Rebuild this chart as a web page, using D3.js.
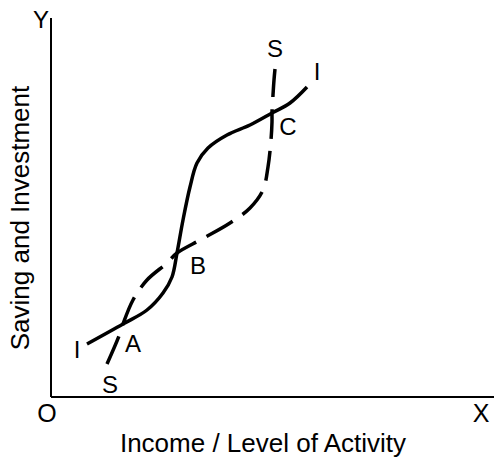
<!DOCTYPE html>
<html>
<head>
<meta charset="utf-8">
<script src="https://cdn.jsdelivr.net/npm/d3@7/dist/d3.min.js"></script>
<style>
  html, body { margin: 0; padding: 0; background: #fff; }
  svg { display: block; }
  text { font-family: "Liberation Sans", Arial, sans-serif; fill: #000; }
</style>
</head>
<body>
<svg id="chart" width="494" height="458"></svg>
<script>
// Investment curve (solid): [income, saving/investment]
const investX = [36, 72, 96, 112, 121, 126, 132, 139, 146, 157, 176, 199, 221, 239, 256];
const investY = [53, 73, 87, 104, 120, 144, 177, 210, 234, 249, 262, 272, 284, 294, 310];
// Saving curve (dashed)
const savingX = [56, 68, 72, 82, 96, 116, 126, 151, 179, 199, 212, 217, 220, 221, 221, 222, 223, 224];
const savingY = [33, 61, 73, 97, 117, 134, 144, 158, 174, 189, 207, 230, 257, 275, 285, 302, 317, 328];
// Point / curve labels
const labelText = ["S", "I", "A", "B", "C", "S", "I"];
const labelX    = [59, 26, 82, 147, 237, 224, 266];
const labelY    = [4, 39, 45, 123, 262, 340, 317];

const axisLabelX = "Income / Level of Activity";
const axisLabelY = "Saving and Investment";

const svg = d3.select("#chart");
const x = d3.scaleLinear().domain([0, 443]).range([51, 494]);
const y = d3.scaleLinear().domain([0, 379]).range([397, 18]);

// Axes
svg.append("line").attr("x1", x(0)).attr("x2", x(0)).attr("y1", y(379)).attr("y2", y(0))
  .attr("stroke", "#000").attr("stroke-width", 2);
svg.append("line").attr("x1", x(0)).attr("x2", x(443)).attr("y1", y(0)).attr("y2", y(0))
  .attr("stroke", "#000").attr("stroke-width", 2);

const line = d3.line().x(d => x(d[0])).y(d => y(d[1])).curve(d3.curveCatmullRom.alpha(0.5));

const investPts = investX.map((v, i) => [v, investY[i]]);
const savingPts = savingX.map((v, i) => [v, savingY[i]]);

svg.append("path").attr("d", line(savingPts)).attr("fill", "none")
  .attr("stroke", "#000").attr("stroke-width", 3.5).attr("stroke-dasharray", "30,12");
svg.append("path").attr("d", line(investPts)).attr("fill", "none")
  .attr("stroke", "#000").attr("stroke-width", 3.5);

// Labels
labelText.forEach((t, i) => {
  svg.append("text").attr("x", x(labelX[i])).attr("y", y(labelY[i]))
    .attr("text-anchor", "middle").attr("font-size", 24).text(t);
});

svg.append("text").attr("x", 41).attr("y", 28).attr("text-anchor", "middle").attr("font-size", 24).text("Y");
svg.append("text").attr("x", 47).attr("y", 422).attr("text-anchor", "middle").attr("font-size", 25).text("O");
svg.append("text").attr("x", 481).attr("y", 422).attr("text-anchor", "middle").attr("font-size", 25).text("X");

svg.append("text").attr("x", 263).attr("y", 452).attr("text-anchor", "middle").attr("font-size", 26).text(axisLabelX);
svg.append("text").attr("transform", "translate(29,218) rotate(-90)")
  .attr("text-anchor", "middle").attr("font-size", 26).text(axisLabelY);
</script>
</body>
</html>
